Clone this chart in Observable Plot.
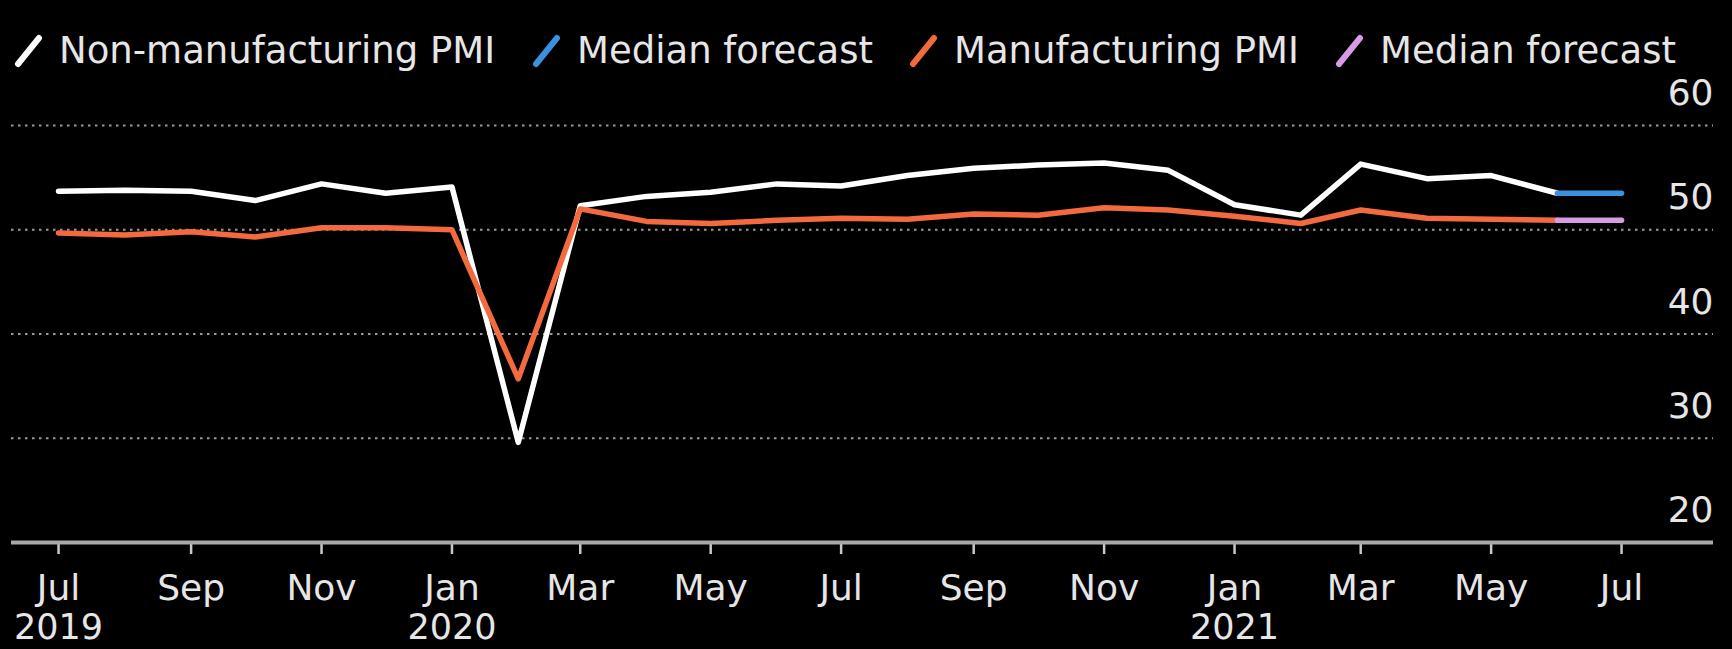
<!DOCTYPE html>
<html>
<head>
<meta charset="utf-8">
<script src="https://cdn.jsdelivr.net/npm/d3@7"></script>
<script src="https://cdn.jsdelivr.net/npm/@observablehq/plot@0.6"></script>
<style>
  html, body { margin: 0; padding: 0; background: #000; }
  #wrap { width: 1732px; height: 649px; background: #000; position: relative; overflow: hidden; font-family: "DejaVu Sans", sans-serif; }
  #legend { position: relative; height: 75px; }
  #chart svg { display: block; }
  .item { position: absolute; top: 30px; height: 42px; display: flex; align-items: center; color: #e6e6e6; font-size: 37px; line-height: 42px; white-space: nowrap; }
  .item svg { margin-right: 14px; }
</style>
</head>
<body>
<div id="wrap">
  <div id="legend"></div>
  <div id="chart"></div>
</div>
<script>
// ---- data ----
const months = ["2019-07","2019-08","2019-09","2019-10","2019-11","2019-12",
  "2020-01","2020-02","2020-03","2020-04","2020-05","2020-06",
  "2020-07","2020-08","2020-09","2020-10","2020-11","2020-12",
  "2021-01","2021-02","2021-03","2021-04","2021-05","2021-06"];
const nonManufacturing = [53.7,53.8,53.7,52.8,54.4,53.5,54.1,29.6,52.3,53.2,53.6,54.4,
  54.2,55.2,55.9,56.2,56.4,55.7,52.4,51.4,56.3,54.9,55.2,53.5];
const manufacturing = [49.7,49.5,49.8,49.3,50.2,50.2,50.0,35.7,52.0,50.8,50.6,50.9,
  51.1,51.0,51.5,51.4,52.1,51.9,51.3,50.6,51.9,51.1,51.0,50.9];
const forecastMonths = ["2021-06","2021-07"];
const nonManufacturingForecast = [53.5, 53.5];
const manufacturingForecast = [50.9, 50.9];

const tickMonths = ["2019-07","2019-09","2019-11","2020-01","2020-03","2020-05","2020-07",
  "2020-09","2020-11","2021-01","2021-03","2021-05","2021-07"];
const tickLabels = ["Jul","Sep","Nov","Jan","Mar","May","Jul","Sep","Nov","Jan","Mar","May","Jul"];
const yearMonths = ["2019-07","2020-01","2021-01"];
const yearLabels = ["2019","2020","2021"];
const yTicks = [20,30,40,50,60];
const gridValues = [30,40,50,60];

const legendNames = ["Non-manufacturing PMI","Median forecast","Manufacturing PMI","Median forecast"];
const legendColors = ["#ffffff","#3d8fe0","#f26a3d","#d89ce6"];

// ---- build ----
const parse = d3.utcParse("%Y-%m");
const main = months.map((m, i) => ({date: parse(m), non: nonManufacturing[i], mfg: manufacturing[i]}));
const fc = forecastMonths.map((m, i) => ({date: parse(m), non: nonManufacturingForecast[i], mfg: manufacturingForecast[i]}));
const ticks = tickMonths.map((m, i) => ({date: parse(m), label: tickLabels[i]}));
const years = yearMonths.map((m, i) => ({date: parse(m), label: yearLabels[i]}));

// legend
const legendLeft = [13, 531, 908, 1334];
const legend = document.getElementById("legend");
legendNames.forEach((name, i) => {
  const div = document.createElement("div");
  div.className = "item";
  div.style.left = legendLeft[i] + "px";
  div.innerHTML = `<svg width="32" height="36" viewBox="0 0 32 36"><line x1="5" y1="31" x2="26" y2="5" stroke="${legendColors[i]}" stroke-width="6" stroke-linecap="round"/></svg><span>${name}</span>`;
  legend.appendChild(div);
});

const textColor = "#e6e6e6";
const plot = Plot.plot({
  width: 1732,
  height: 574,
  marginLeft: 11,
  marginRight: 19,
  marginTop: 50,
  marginBottom: 107,
  style: {background: "#000", fontFamily: "DejaVu Sans, sans-serif", fontSize: "36px", color: textColor, overflow: "visible"},
  x: {type: "utc", domain: [parse("2019-07").getTime() - 22 * 864e5, parse("2021-07").getTime() + 43 * 864e5], axis: null},
  y: {domain: [20, 60], axis: null},
  marks: [
    Plot.ruleY(gridValues, {stroke: "#9a9a9a", strokeWidth: 2, strokeDasharray: "2.5,4.5"}),
    Plot.axisX({ticks: ticks.map(d => d.date), tickSize: 12, tickFormat: () => "", stroke: "#c8c8c8", strokeWidth: 2.5}),
    Plot.ruleY([20], {stroke: "#a8a8a8", strokeWidth: 4}),
    Plot.text(yTicks, {y: d => d, text: d => String(d), frameAnchor: "right", textAnchor: "end", lineAnchor: "middle", dy: -32, dx: 0, fill: textColor, fontSize: 36}),
    Plot.text(ticks, {x: "date", text: "label", frameAnchor: "bottom", lineAnchor: "middle", dy: 46, fill: textColor, fontSize: 36}),
    Plot.text(years, {x: "date", text: "label", frameAnchor: "bottom", lineAnchor: "middle", dy: 85, fill: textColor, fontSize: 35}),
    Plot.line(main, {x: "date", y: "non", stroke: "#ffffff", strokeWidth: 5.5, strokeLinejoin: "round"}),
    Plot.line(main, {x: "date", y: "mfg", stroke: "#f26a3d", strokeWidth: 5.5, strokeLinejoin: "round"}),
    Plot.line(fc, {x: "date", y: "non", stroke: "#3d8fe0", strokeWidth: 5.5}),
    Plot.line(fc, {x: "date", y: "mfg", stroke: "#d89ce6", strokeWidth: 5.5})
  ]
});
document.getElementById("chart").appendChild(plot);
</script>
</body>
</html>
